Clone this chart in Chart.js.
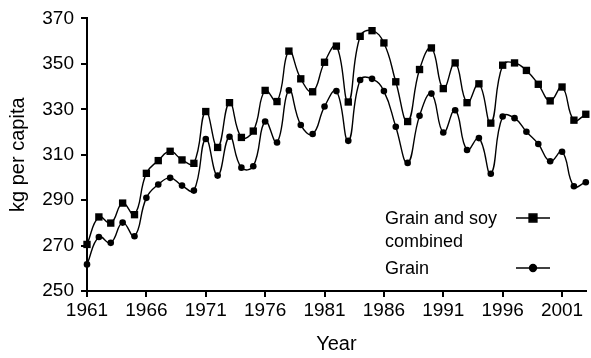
<!DOCTYPE html>
<html>
<head>
<meta charset="utf-8">
<script src="https://cdn.jsdelivr.net/npm/chart.js@4/dist/chart.umd.min.js"></script>
<style>
  html, body { margin: 0; padding: 0; background: #ffffff; }
  #wrap { width: 591px; height: 358px; position: relative; }
</style>
</head>
<body>
<div id="wrap"><canvas id="c" width="591" height="358"></canvas></div>
<script>
const years = [1961,1962,1963,1964,1965,1966,1967,1968,1969,1970,
               1971,1972,1973,1974,1975,1976,1977,1978,1979,1980,
               1981,1982,1983,1984,1985,1986,1987,1988,1989,1990,
               1991,1992,1993,1994,1995,1996,1997,1998,1999,2000,
               2001,2002,2003];
const grainSoy = [270.5,282.6,279.9,288.7,283.6,301.8,307.4,311.5,307.7,306.2,
                  329.0,313.2,332.9,317.6,320.4,338.3,333.4,355.6,343.4,337.7,
                  350.7,357.8,333.2,362.1,364.6,359.2,342.1,324.6,347.5,357.0,
                  339.1,350.4,332.9,341.2,323.9,349.4,350.4,347.1,341.0,333.7,
                  339.8,325.2,327.8];
const grain = [261.7,273.8,271.2,280.1,274.1,291.0,296.9,299.8,296.4,294.2,
               316.9,300.8,317.9,304.3,304.9,324.6,315.4,338.3,323.1,319.1,
               331.2,338.0,316.1,342.9,343.4,338.0,322.3,306.4,327.1,336.9,
               319.8,329.6,312.1,317.3,301.6,326.8,326.1,320.1,314.7,307.1,
               311.3,296.1,297.9];
const xTicks = [1961,1966,1971,1976,1981,1986,1991,1996,2001];
const yTicks = [250,270,290,310,330,350,370];
const seriesNames = ["Grain and soy combined", "Grain"];
const legendLines = [["Grain and soy", "combined"], ["Grain"]];

const FONT = "'Liberation Sans', Arial, Helvetica, sans-serif";

const legendPlugin = {
  id: 'insideLegend',
  afterDatasetsDraw(chart) {
    const ctx = chart.ctx;
    ctx.save();
    ctx.fillStyle = '#000';
    ctx.strokeStyle = '#000';
    ctx.font = '18px ' + FONT;
    ctx.textBaseline = 'alphabetic';
    ctx.textAlign = 'left';
    const items = [
      { lines: legendLines[0], y: 224, lineY: 218, style: 'rect', r: 5.5 },
      { lines: legendLines[1], y: 274, lineY: 268, style: 'circle', r: 3.4 }
    ];
    items.forEach(it => {
      ctx.fillStyle = '#000';
      it.lines.forEach((t, k) => ctx.fillText(t, 385, it.y + k * 23));
      ctx.lineWidth = 1.5;
      ctx.beginPath();
      ctx.moveTo(516, it.lineY);
      ctx.lineTo(550, it.lineY);
      ctx.stroke();
      Chart.helpers.drawPoint(ctx, { pointStyle: it.style, radius: it.r, rotation: 0, borderWidth: 1 }, 533, it.lineY);
    });
    ctx.restore();
  }
};

new Chart(document.getElementById('c'), {
  type: 'line',
  data: {
    datasets: [
      {
        label: seriesNames[0],
        data: grainSoy.map((v, i) => ({ x: years[i], y: v })),
        borderColor: '#000', backgroundColor: '#000',
        borderWidth: 1.4, pointStyle: 'rect', pointRadius: 5.2,
        pointBorderWidth: 0, tension: 0.45, clip: false
      },
      {
        label: seriesNames[1],
        data: grain.map((v, i) => ({ x: years[i], y: v })),
        borderColor: '#000', backgroundColor: '#000',
        borderWidth: 1.4, pointStyle: 'circle', pointRadius: 3.3,
        pointBorderWidth: 0, tension: 0.45, clip: false
      }
    ]
  },
  options: {
    responsive: false,
    animation: false,
    devicePixelRatio: 1,
    layout: { padding: { top: 17, right: 4, left: 0, bottom: 0 } },
    plugins: { legend: { display: false }, tooltip: { enabled: false } },
    scales: {
      x: {
        type: 'linear', min: 1961, max: 2003,
        afterBuildTicks: s => { s.ticks = xTicks.map(v => ({ value: v })); },
        afterFit: s => { s.height = 67; },
        grid: { display: true, drawOnChartArea: false, drawTicks: true, tickLength: 6, color: '#000', lineWidth: 2 },
        border: { display: true, color: '#000', width: 2 },
        ticks: { color: '#000', font: { family: FONT, size: 19 }, padding: 2, maxRotation: 0, autoSkip: false,
                 callback: v => String(v) },
        title: { display: true, text: 'Year', color: '#000', font: { family: FONT, size: 20 }, padding: { top: 6, bottom: 2 } }
      },
      y: {
        min: 250, max: 370,
        afterBuildTicks: s => { s.ticks = yTicks.map(v => ({ value: v })); },
        afterFit: s => { s.width = 87; },
        grid: { display: true, drawOnChartArea: false, drawTicks: true, tickLength: 6, color: '#000', lineWidth: 2 },
        border: { display: true, color: '#000', width: 2 },
        ticks: { color: '#000', font: { family: FONT, size: 19 }, padding: 7 },
        title: { display: true, text: 'kg per capita', color: '#000', font: { family: FONT, size: 20 }, padding: { top: 6, bottom: 4 } }
      }
    }
  },
  plugins: [legendPlugin]
});
</script>
</body>
</html>
